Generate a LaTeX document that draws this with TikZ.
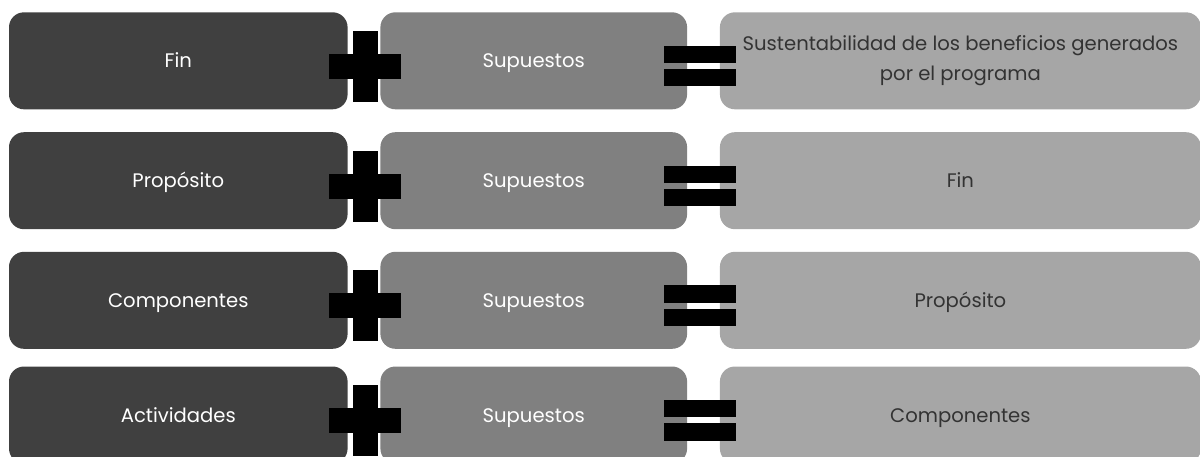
\documentclass[tikz,border=0pt]{standalone}
\usepackage{fontspec}
\setmainfont{Poppins}
\usepackage{xcolor}
\usetikzlibrary{positioning}
\definecolor{darkbox}{HTML}{404040}
\definecolor{midbox}{HTML}{808080}
\definecolor{lightbox}{HTML}{A6A6A6}
\definecolor{darktext}{HTML}{333333}

\begin{document}
\begin{tikzpicture}[
  x=1pt, y=-1pt,
  font=\fontsize{19.6}{30.6}\selectfont,
  node distance=0pt and 32.4pt,
  box/.style={rounded corners=15pt, align=center, inner sep=0pt, minimum height=97pt,
              text height=14pt, text depth=0pt},
  level/.style={box, fill=darkbox, text=white, minimum width=338.6pt},
  assume/.style={box, fill=midbox, text=white, minimum width=306.7pt},
  result/.style={box, fill=lightbox, text=darktext, minimum width=481pt},
  twoline/.style={text height=, text depth=},
  bar/.style={fill=black, inner sep=0pt},
]
\clip (0,0) rectangle (1200,456);
\foreach \i/\y/\lft/\rgt/\opt in {0/60.8/Fin/{Sustentabilidad de los beneficios generados\\por el programa}/twoline,
    1/180.7/Propósito/Fin/{}, 2/300.3/Componentes/Propósito/{}, 3/415/Actividades/Componentes/{}}{
  \node[level] (lvl\i) at (178.3, \y) {\lft};
  \node[assume, right=of lvl\i] (sup\i) {Supuestos};
  \node[result, right=of sup\i, \opt] (res\i) {\rgt};
  % plus sign
  \node[bar, minimum width=25pt, minimum height=71.3pt] (plusv\i) at ([xshift=17.6pt, yshift=-5.5pt]lvl\i.east) {};
  \node[bar, minimum width=72pt, minimum height=24.7pt] (plush\i) at (plusv\i.center) {};
  % equals sign
  \node[bar, minimum width=71.7pt, minimum height=17.3pt] (eqa\i) at ([xshift=12.5pt, yshift=6.2pt]sup\i.east) {};
  \node[bar, minimum width=71.7pt, minimum height=17.3pt] (eqb\i) at ([xshift=12.5pt, yshift=-16.9pt]sup\i.east) {};
}
\end{tikzpicture}
\end{document}
